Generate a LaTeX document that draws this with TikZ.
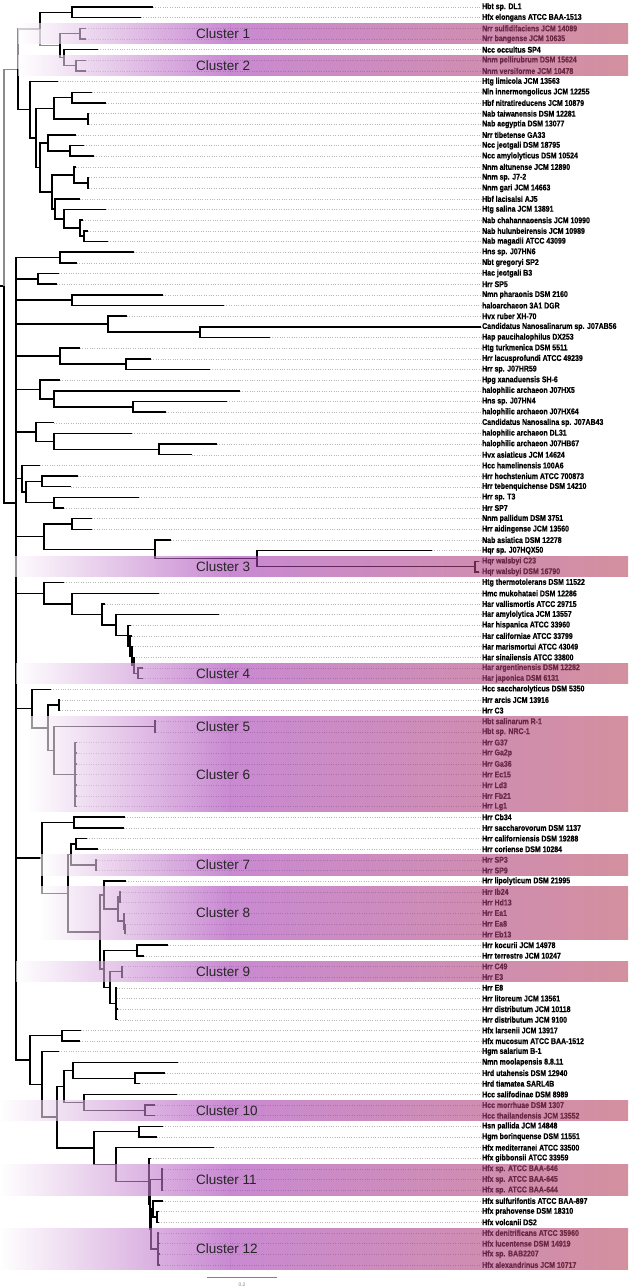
\documentclass[tikz,border=0pt]{standalone}
\usepackage{fontspec}
\setmainfont{Liberation Sans}
\newfontfamily\labfont{Liberation Sans Bold}[FakeStretch=0.84, UprightFeatures={FakeBold=0.6}]
\usetikzlibrary{calc}
\definecolor{bandP}{HTML}{A53CB4}
\definecolor{bandQ}{HTML}{B7465F}
\definecolor{linegray}{HTML}{8C8C8C}
\definecolor{leadgray}{HTML}{B8B8B8}
\tikzset{
  br/.style={line width=1.5pt, black, line join=miter},
  lin/.style={line width=1.5pt, linegray, line join=miter},
  leader/.style={leadgray, line width=0.4pt, dotted},
  lab/.style={anchor=west, inner sep=0pt, font=\labfont\fontsize{8.3}{9}\selectfont},
  clab/.style={anchor=west, inner sep=0pt, text=black!85, font=\fontsize{13.5}{15}\selectfont},
}
\newcommand\leaf[3]{%
  \coordinate (L#1) at (#2,{7+(#1-1)*10.66});
  \node[lab] (T#1) at (482,{7+(#1-1)*10.66}) {#3};
  \draw[leader] (L#1) -- (T#1.west);}
\newcommand\inode[4]{\path let \p1=(#3), \p2=(#4) in coordinate (#1) at (#2,{(\y1+\y2)/2});}
\newcommand\edges[3][br]{\foreach \ch in {#3}{\draw[#1] (#2) |- (\ch);}}
\newcommand\band[5]{%
  \pgfmathsetmacro\bt{7+(#1-1)*10.66-4.9}
  \pgfmathsetmacro\bb{7+(#2-1)*10.66+4.9}
  \shade[opacity=0.6, left color=white, right color=bandP] (#3,\bt) rectangle (230,\bb);
  \shade[opacity=0.6, left color=bandP, right color=bandQ] (230,\bt) rectangle (628,\bb);
  \node[clab] (#5) at (196,{(\bt+\bb)/2}) {#4};}
\begin{document}
\begin{tikzpicture}[x=1pt,y=-1pt]
\fill[white] (0,0) rectangle (630,1288);
\path[use as bounding box] (0,0) rectangle (630,1288);
% leaves
\leaf{1}{153}{Hbt sp. DL1}
\leaf{2}{141}{Hfx elongans ATCC BAA-1513}
\leaf{3}{86}{Nrr sulfidifaciens JCM 14089}
\leaf{4}{86}{Nrr bangense JCM 10635}
\leaf{5}{98}{Ncc occultus SP4}
\leaf{6}{86}{Nnm pellirubrum DSM 15624}
\leaf{7}{86}{Nnm versiforme JCM 10478}
\leaf{8}{58}{Htg limicola JCM 13563}
\leaf{9}{92}{Nln innermongolicus JCM 12255}
\leaf{10}{106}{Hbf nitratireducens JCM 10879}
\leaf{11}{89}{Nab taiwanensis DSM 12281}
\leaf{12}{89}{Nab aegyptia DSM 13077}
\leaf{13}{76}{Nrr tibetense GA33}
\leaf{14}{84}{Ncc jeotgali DSM 18795}
\leaf{15}{94}{Ncc amylolyticus DSM 10524}
\leaf{16}{76}{Nnm altunense JCM 12890}
\leaf{17}{89}{Nnm sp. J7-2}
\leaf{18}{89}{Nnm gari JCM 14663}
\leaf{19}{80}{Hbf lacisalsi AJ5}
\leaf{20}{106}{Htg salina JCM 13891}
\leaf{21}{83}{Nab chahannaoensis JCM 10990}
\leaf{22}{88}{Nab hulunbeirensis JCM 10989}
\leaf{23}{108}{Nab magadii ATCC 43099}
\leaf{24}{134}{Hns sp. J07HN6}
\leaf{25}{77}{Nbt gregoryi SP2}
\leaf{26}{59}{Hac jeotgali B3}
\leaf{27}{57}{Hrr SP5}
\leaf{28}{163}{Nmn pharaonis DSM 2160}
\leaf{29}{224}{haloarchaeon 3A1 DGR}
\leaf{30}{127}{Hvx ruber XH-70}
\leaf{31}{481}{Candidatus Nanosalinarum sp. J07AB56}
\leaf{32}{270}{Hap paucihalophilus DX253}
\leaf{33}{80}{Htg turkmenica DSM 5511}
\leaf{34}{151}{Hrr lacusprofundi ATCC 49239}
\leaf{35}{210}{Hrr sp. J07HR59}
\leaf{36}{60}{Hpg xanaduensis SH-6}
\leaf{37}{240}{halophilic archaeon J07HX5}
\leaf{38}{227}{Hns sp. J07HN4}
\leaf{39}{166}{halophilic archaeon J07HX64}
\leaf{40}{54}{Candidatus Nanosalina sp. J07AB43}
\leaf{41}{132}{halophilic archaeon DL31}
\leaf{42}{217}{halophilic archaeon J07HB67}
\leaf{43}{192}{Hvx asiaticus JCM 14624}
\leaf{44}{40}{Hcc hamelinensis 100A6}
\leaf{45}{78}{Hrr hochstenium ATCC 700873}
\leaf{46}{71}{Hrr tebenquichense DSM 14210}
\leaf{47}{139}{Hrr sp. T3}
\leaf{48}{64}{Hrr SP7}
\leaf{49}{92}{Nnm pallidum DSM 3751}
\leaf{50}{92}{Hrr aidingense JCM 13560}
\leaf{51}{171}{Nab asiatica DSM 12278}
\leaf{52}{432}{Hqr sp. J07HQX50}
\leaf{53}{479}{Hqr walsbyi C23}
\leaf{54}{479}{Hqr walsbyi DSM 16790}
\leaf{55}{64}{Htg thermotolerans DSM 11522}
\leaf{56}{159}{Hmc mukohataei DSM 12286}
\leaf{57}{105}{Har vallismortis ATCC 29715}
\leaf{58}{219}{Har amylolytica JCM 13557}
\leaf{59}{131}{Har hispanica ATCC 33960}
\leaf{60}{132}{Har californiae ATCC 33799}
\leaf{61}{133}{Har marismortui ATCC 43049}
\leaf{62}{134}{Har sinaiiensis ATCC 33800}
\leaf{63}{143}{Har argentinensis DSM 12282}
\leaf{64}{143}{Har japonica DSM 6131}
\leaf{65}{51}{Hcc saccharolyticus DSM 5350}
\leaf{66}{60}{Hrr arcis JCM 13916}
\leaf{67}{60}{Hrr C3}
\leaf{68}{156}{Hbt salinarum R-1}
\leaf{69}{156}{Hbt sp. NRC-1}
\leaf{70}{76.5}{Hrr G37}
\leaf{71}{76.5}{Hrr Ga2p}
\leaf{72}{76.5}{Hrr Ga36}
\leaf{73}{76.5}{Hrr Ec15}
\leaf{74}{76.5}{Hrr Ld3}
\leaf{75}{76.5}{Hrr Fb21}
\leaf{76}{76.5}{Hrr Lg1}
\leaf{77}{125}{Hrr Cb34}
\leaf{78}{124}{Hrr saccharovorum DSM 1137}
\leaf{79}{87}{Hrr californiensis DSM 19288}
\leaf{80}{98}{Hrr coriense DSM 10284}
\leaf{81}{97}{Hrr SP3}
\leaf{82}{97}{Hrr SP9}
\leaf{83}{126}{Hrr lipolyticum DSM 21995}
\leaf{84}{121}{Hrr Ib24}
\leaf{85}{121}{Hrr Hd13}
\leaf{86}{124}{Hrr Ea1}
\leaf{87}{125}{Hrr Ea8}
\leaf{88}{125}{Hrr Eb13}
\leaf{89}{168}{Hrr kocurii JCM 14978}
\leaf{90}{144}{Hrr terrestre JCM 10247}
\leaf{91}{123}{Hrr C49}
\leaf{92}{123}{Hrr E3}
\leaf{93}{117}{Hrr E8}
\leaf{94}{117}{Hrr litoreum JCM 13561}
\leaf{95}{118}{Hrr distributum JCM 10118}
\leaf{96}{118}{Hrr distributum JCM 9100}
\leaf{97}{81}{Hfx larsenii JCM 13917}
\leaf{98}{80}{Hfx mucosum ATCC BAA-1512}
\leaf{99}{59}{Hgm salarium B-1}
\leaf{100}{178}{Nmn moolapensis 8.8.11}
\leaf{101}{165}{Hrd utahensis DSM 12940}
\leaf{102}{140}{Hrd tiamatea SARL4B}
\leaf{103}{177}{Hcc salifodinae DSM 8989}
\leaf{104}{155}{Hcc morrhuae DSM 1307}
\leaf{105}{155}{Hcc thailandensis JCM 13552}
\leaf{106}{163}{Hsn pallida JCM 14848}
\leaf{107}{157}{Hgm borinquense DSM 11551}
\leaf{108}{214}{Hfx mediterranei ATCC 33500}
\leaf{109}{151}{Hfx gibbonsii ATCC 33959}
\leaf{110}{163}{Hfx sp. ATCC BAA-646}
\leaf{111}{163}{Hfx sp. ATCC BAA-645}
\leaf{112}{163}{Hfx sp. ATCC BAA-644}
\leaf{113}{163}{Hfx sulfurifontis ATCC BAA-897}
\leaf{114}{159}{Hfx prahovense DSM 18310}
\leaf{115}{159}{Hfx volcanii DS2}
\leaf{116}{159}{Hfx denitrificans ATCC 35960}
\leaf{117}{160}{Hfx lucentense DSM 14919}
\leaf{118}{160}{Hfx sp. BAB2207}
\leaf{119}{160}{Hfx alexandrinus JCM 10717}
% ---- top clade
\inode{n12}{72}{L1}{L2}
\inode{c1}{80}{L3}{L4}
\inode{c2}{76}{L6}{L7}
\inode{n5c2}{64}{L5}{c2}
\inode{N2}{60}{c1}{n5c2}
\inode{N1}{40}{n12}{N2}
\inode{n910}{72}{L9}{L10}
\inode{n1112}{88}{L11}{L12}
\inode{F}{54}{n910}{n1112}
\inode{n1415}{70}{L14}{L15}
\inode{H}{48}{L13}{n1415}
\inode{n1718}{88}{L17}{L18}
\inode{J}{74}{L16}{n1718}
\inode{n2223}{84}{L22}{L23}
\inode{Nn}{80}{L21}{n2223}
\inode{M}{64}{L20}{Nn}
\inode{K}{55}{L19}{M}
\inode{I}{52}{J}{K}
\inode{G}{40}{H}{I}
\inode{E}{36}{F}{G}
\inode{D}{30}{L8}{E}
\inode{A}{18}{N1}{D}
\coordinate (B) at (16,503);
\inode{R}{4}{A}{B}
\path let \p1=(R) in coordinate (R0) at (0,\y1);
% ---- B children
\inode{b1}{60}{L24}{L25}
\inode{b2}{38}{L26}{L27}
\inode{b3}{72}{L28}{L29}
\inode{n3132}{200}{L31}{L32}
\inode{b4}{108}{L30}{n3132}
\inode{n3435}{126}{L34}{L35}
\inode{b5}{60}{L33}{n3435}
\inode{n3839}{133}{L38}{L39}
\inode{n37}{54}{L37}{n3839}
\inode{b6}{40}{L36}{n37}
\inode{n4243}{159}{L42}{L43}
\inode{n41}{54}{L41}{n4243}
\inode{b7}{36}{L40}{n41}
\inode{n4546}{42}{L45}{L46}
\inode{n4748}{54}{L47}{L48}
\inode{n4548}{26}{n4546}{n4748}
\inode{b8}{22}{L44}{n4548}
\inode{n4950}{72}{L49}{L50}
\inode{c3}{475}{L53}{L54}
\inode{n52}{257}{L52}{c3}
\inode{n51}{155}{L51}{n52}
\inode{b9}{44}{n4950}{n51}
\inode{c4}{138}{L63}{L64}
\inode{hS}{134}{L62}{c4}
\inode{hR}{132}{L61}{hS}
\inode{hQ}{130}{L60}{hR}
\inode{hP}{128}{L59}{hQ}
\inode{h58}{116}{L58}{hP}
\inode{h57}{102}{L57}{h58}
\inode{h56}{72}{L56}{h57}
\inode{b10}{44}{L55}{h56}
\inode{n6667}{59}{L66}{L67}
\inode{c5}{155}{L68}{L69}
\inode{c6}{75}{L70}{L76}
\inode{U}{54}{c5}{c6}
\inode{T}{48}{n6667}{U}
\inode{b11}{32}{L65}{T}
\inode{n7778}{74}{L77}{L78}
\inode{n7980}{76}{L79}{L80}
\inode{c7}{96}{L81}{L82}
\inode{W}{71}{n7980}{c7}
\inode{n8485}{120}{L84}{L85}
\inode{n8788}{125}{L87}{L88}
\inode{n86}{124}{L86}{n8788}
\inode{c8}{118}{n8485}{n86}
\inode{Z1}{104}{L83}{c8}
\inode{n8990}{137}{L89}{L90}
\inode{c9}{122}{L91}{L92}
\inode{Z4}{116}{L93}{L96}
\inode{Z3}{110}{c9}{Z4}
\inode{Z2}{104}{n8990}{Z3}
\inode{Z}{100}{Z1}{Z2}
\inode{Y}{68}{W}{Z}
\inode{X}{42}{n7778}{Y}
\inode{n9798}{62}{L97}{L98}
\inode{n101102}{135}{L101}{L102}
\inode{n100}{73}{L100}{n101102}
\inode{c10}{145}{L104}{L105}
\inode{n103}{84}{L103}{c10}
\inode{DD}{64}{n100}{n103}
\inode{n106107}{139}{L106}{L107}
\inode{c11}{162}{L110}{L112}
\inode{n114115}{157}{L114}{L115}
\inode{II}{153}{L113}{n114115}
\inode{c12}{158}{L116}{L119}
\inode{GG3}{151}{II}{c12}
\inode{GG2}{150}{c11}{GG3}
\inode{GG}{149}{L109}{GG2}
\inode{FF}{116}{L108}{GG}
\inode{EE}{94}{n106107}{FF}
\inode{CC}{57}{DD}{EE}
\inode{BB}{42}{L99}{CC}
\inode{AA}{30}{n9798}{BB}
% ---- edges
\draw[br] (R0) -- (R);
\edges[lin]{R}{A}
\edges{R}{B}
\edges[lin]{A}{N1}
\edges{A}{D}
\edges{N1}{n12}
\edges[lin]{N1}{N2}
\edges{n12}{L1,L2}
\edges{c1}{L3,L4}
\edges{c2}{L6,L7}
\edges{n5c2}{L5,c2}
\edges{N2}{c1,n5c2}
\edges{n910}{L9,L10}
\edges{n1112}{L11,L12}
\edges{F}{n910,n1112}
\edges{n1415}{L14,L15}
\edges{H}{L13,n1415}
\edges{n1718}{L17,L18}
\edges{J}{L16,n1718}
\edges{n2223}{L22,L23}
\edges{Nn}{L21,n2223}
\edges{M}{L20,Nn}
\edges{K}{L19,M}
\edges{I}{J,K}
\edges{G}{H,I}
\edges{E}{F,G}
\edges{D}{L8,E}
\edges{B}{b1,b2,b3,b4,b5,b6,b7,b8,b9,b10,b11,X,AA}
\edges{b1}{L24,L25}
\edges{b2}{L26,L27}
\edges{b3}{L28,L29}
\edges{n3132}{L31,L32}
\edges{b4}{L30,n3132}
\edges{n3435}{L34,L35}
\edges{b5}{L33,n3435}
\edges{n3839}{L38,L39}
\edges{n37}{L37,n3839}
\edges{b6}{L36,n37}
\edges{n4243}{L42,L43}
\edges{n41}{L41,n4243}
\edges{b7}{L40,n41}
\edges{n4546}{L45,L46}
\edges{n4748}{L47,L48}
\edges{n4548}{n4546,n4748}
\edges{b8}{L44,n4548}
\edges{n4950}{L49,L50}
\edges{c3}{L53,L54}
\edges{n52}{L52,c3}
\edges{n51}{L51,n52}
\edges{b9}{n4950,n51}
\edges{c4}{L63,L64}
\edges{hS}{L62,c4}
\edges{hR}{L61,hS}
\edges{hQ}{L60,hR}
\edges{hP}{L59,hQ}
\edges{h58}{L58,hP}
\edges{h57}{L57,h58}
\edges{h56}{L56,h57}
\edges{b10}{L55,h56}
\edges{n6667}{L66,L67}
\edges{c5}{L68,L69}
\edges{c6}{L70,L71,L72,L73,L74,L75,L76}
\edges{U}{c5,c6}
\edges{T}{n6667,U}
\edges{b11}{L65,T}
\edges{n7778}{L77,L78}
\edges{n7980}{L79,L80}
\edges{c7}{L81,L82}
\edges{W}{n7980,c7}
\edges{n8485}{L84,L85}
\edges{n8788}{L87,L88}
\edges{n86}{L86,n8788}
\edges{c8}{n8485,n86}
\edges{Z1}{L83,c8}
\edges{n8990}{L89,L90}
\edges{c9}{L91,L92}
\edges{Z4}{L93,L94,L95,L96}
\edges{Z3}{c9,Z4}
\edges{Z2}{n8990,Z3}
\edges{Z}{Z1,Z2}
\edges{Y}{W,Z}
\edges{X}{n7778,Y}
\edges{n9798}{L97,L98}
\edges{n101102}{L101,L102}
\edges{n100}{L100,n101102}
\edges{c10}{L104,L105}
\edges{n103}{L103,c10}
\edges{DD}{n100,n103}
\edges{n106107}{L106,L107}
\edges{c11}{L110,L111,L112}
\edges{n114115}{L114,L115}
\edges{II}{L113,n114115}
\edges{c12}{L116,L117,L118,L119}
\edges{GG3}{II,c12}
\edges{GG2}{c11,GG3}
\edges{GG}{L109,GG2}
\edges{FF}{L108,GG}
\edges{EE}{n106107,FF}
\edges{CC}{DD,EE}
\edges{BB}{L99,CC}
\edges{AA}{n9798,BB}
% ---- cluster bands
\band{3}{4}{18}{Cluster 1}{K1}
\band{6}{7}{18}{Cluster 2}{K2}
\band{53}{54}{8}{Cluster 3}{K3}
\band{63}{64}{16}{Cluster 4}{K4}
\band{68}{69}{28}{Cluster 5}{K5}
\band{70}{76}{28}{Cluster 6}{K6}
\band{81}{82}{40}{Cluster 7}{K7}
\band{84}{88}{40}{Cluster 8}{K8}
\band{91}{92}{16}{Cluster 9}{K9}
\band{104}{105}{0}{Cluster 10}{K10}
\band{110}{112}{0}{Cluster 11}{K11}
\band{116}{119}{0}{Cluster 12}{K12}
% ---- scale bar
\coordinate (sb1) at (207,1277);
\coordinate (sb2) at (277,1277);
\draw[gray, line width=0.9pt] (sb1) -- (sb2);
\node[font=\fontsize{5}{6}\selectfont, text=gray, inner sep=0pt] (sbl) at (242,1285) {0.2};
\end{tikzpicture}
\end{document}
